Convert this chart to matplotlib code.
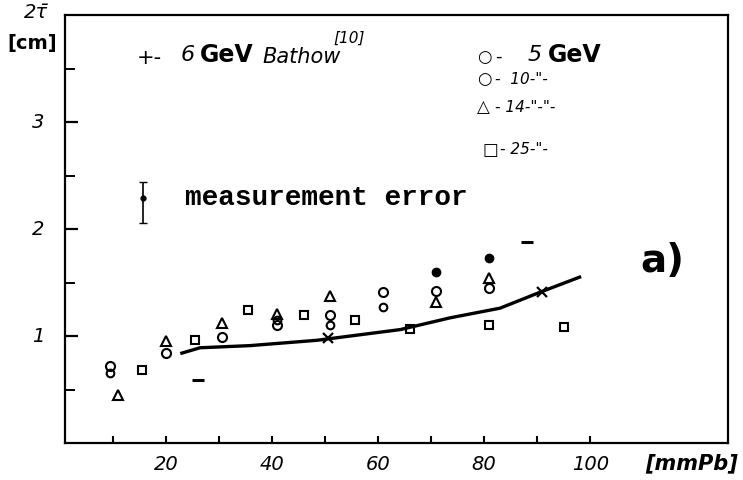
import matplotlib
matplotlib.use("Agg")
import matplotlib.pyplot as plt

#Data (x in mm Pb, y = 2*tau in cm)
gev5_x = [9.5, 20, 30.5, 41, 51, 61, 71, 81]
gev5_y = [0.72, 0.84, 0.99, 1.10, 1.20, 1.41, 1.42, 1.45]

gev10_x = [9.5, 41, 51, 61]
gev10_y = [0.65, 1.15, 1.10, 1.27]

gev14_x = [11, 20, 30.5, 41, 51, 71, 81]
gev14_y = [0.45, 0.95, 1.12, 1.21, 1.37, 1.32, 1.54]

gev25_x = [15.5, 25.5, 35.5, 46, 55.7, 66, 81, 95]
gev25_y = [0.68, 0.96, 1.24, 1.20, 1.15, 1.07, 1.10, 1.08]

#filled dots and stray dashes
dots_x = [71, 81]
dots_y = [1.60, 1.73]
dash_x = [26, 88]
dash_y = [0.59, 1.88]

#6 GeV Bathow curve and its crosses
bathow_x = [23, 26.4, 35.8, 48.5, 64.2, 73.6, 83, 90.6, 98]
bathow_y = [0.84, 0.89, 0.91, 0.96, 1.06, 1.17, 1.26, 1.41, 1.55]
cross_x = [50.5, 91]
cross_y = [0.98, 1.41]

#measurement error bar
err_x = [15.7]
err_y = [2.29]
err_lo = [0.23]
err_hi = [0.15]

xticks_major = [20, 40, 60, 80, 100]
xticks_minor = [10, 30, 50, 70, 90]
yticks_major = [1, 2, 3]
yticks_minor = [0.5, 1.5, 2.5, 3.5]

W, H = 743, 480

def fx(px):
    return px / W

def fy(py):
    return 1 - py / H

fig = plt.figure(figsize=(W / 100, H / 100), dpi=100)
ax = fig.add_axes([fx(65), fy(443), fx(728) - fx(65), fy(15) - fy(443)])
ax.set_xlim(0.95, 126)
ax.set_ylim(0, 4)

for s in ax.spines.values():
    s.set_linewidth(1.6)
    s.set_color("black")

#Ticks point inward, no matplotlib labels (drawn by hand below)
ax.set_xticks(xticks_major)
ax.set_xticks(xticks_minor, minor=True)
ax.set_yticks(yticks_major)
ax.set_yticks(yticks_minor, minor=True)
ax.tick_params(which="both", direction="in", labelbottom=False, labelleft=False, color="black")
ax.tick_params(axis="x", which="both", length=5, width=1.5)
ax.tick_params(axis="y", which="major", length=9, width=1.6)
ax.tick_params(axis="y", which="minor", length=7, width=1.4)

hand = dict(style="italic", color="black")
for v in xticks_major:
    ax.text(v, -0.2, str(v), ha="center", va="center", fontsize=14, **hand)
for v in yticks_major:
    ax.text(-3, v, str(v), ha="right", va="center", fontsize=14, **hand)

#Bathow curve
ax.plot(bathow_x, bathow_y, color="black", lw=2.4)
ax.plot(cross_x, cross_y, "x", color="black", ms=7, mew=1.6)

#Measurement points
mk = dict(color="black", ls="none", mfc="none", mew=1.5)
ax.plot(gev5_x, gev5_y, "o", ms=6.5, **mk)
ax.plot(gev10_x, gev10_y, "o", ms=5.5, **mk)
ax.plot(gev14_x, gev14_y, "^", ms=7, **mk)
ax.plot(gev25_x, gev25_y, "s", ms=6, **mk)
ax.plot(dots_x, dots_y, "o", color="black", ms=6, ls="none")
ax.plot(dash_x, dash_y, "_", color="black", ms=8, mew=2.2, ls="none")

#measurement error marker
ax.errorbar(err_x, err_y, yerr=[err_lo, err_hi], fmt="o", color="black", ms=3.5,
            capsize=3, elinewidth=1.2, ls="none")
ax.text(23.5, 2.29, "measurement error", fontsize=20, family="Liberation Mono",
        weight="bold", va="center", ha="left", color="black")

#panel letter
ax.text(109.5, 1.70, "a)", fontsize=28, weight="bold", ha="left", va="center")

#Axis labels
fig.text(fx(36), fy(12), "2τ̄", fontsize=14, ha="center", va="center", **hand)
fig.text(fx(32), fy(44), "[cm]", fontsize=14, weight="bold", ha="center", va="center")
fig.text(fx(692), fy(463), "[mmPb]", fontsize=15, weight="bold", ha="center", va="center", **hand)

#Top left legend entry
fig.text(fx(137), fy(58), "+-", fontsize=15, ha="left", va="center")
fig.text(fx(181), fy(55), "6", fontsize=16, ha="left", va="center", **hand)
fig.text(fx(200), fy(55), "GeV", fontsize=17, weight="bold", ha="left", va="center")
fig.text(fx(262), fy(57), "Bathow", fontsize=15, ha="left", va="center", **hand)
fig.text(fx(333), fy(38), "[10]", fontsize=11, ha="left", va="center", **hand)

#Right legend column
fig.text(fx(477), fy(57), "○", fontsize=12, ha="left", va="center")
fig.text(fx(495), fy(57), "-", fontsize=13, ha="left", va="center")
fig.text(fx(528), fy(55), "5", fontsize=16, ha="left", va="center", **hand)
fig.text(fx(548), fy(55), "GeV", fontsize=17, weight="bold", ha="left", va="center")
fig.text(fx(477), fy(79), "○", fontsize=12, ha="left", va="center")
fig.text(fx(495), fy(79), '-  10-"-', fontsize=11, ha="left", va="center", **hand)
fig.text(fx(477), fy(107), "△", fontsize=12, ha="left", va="center")
fig.text(fx(495), fy(107), '- 14-"-"-', fontsize=11, ha="left", va="center", **hand)
fig.text(fx(482), fy(150), "□", fontsize=12, ha="left", va="center")
fig.text(fx(500), fy(150), '- 25-"-', fontsize=11, ha="left", va="center", **hand)

fig.savefig("out.png", dpi=100)
